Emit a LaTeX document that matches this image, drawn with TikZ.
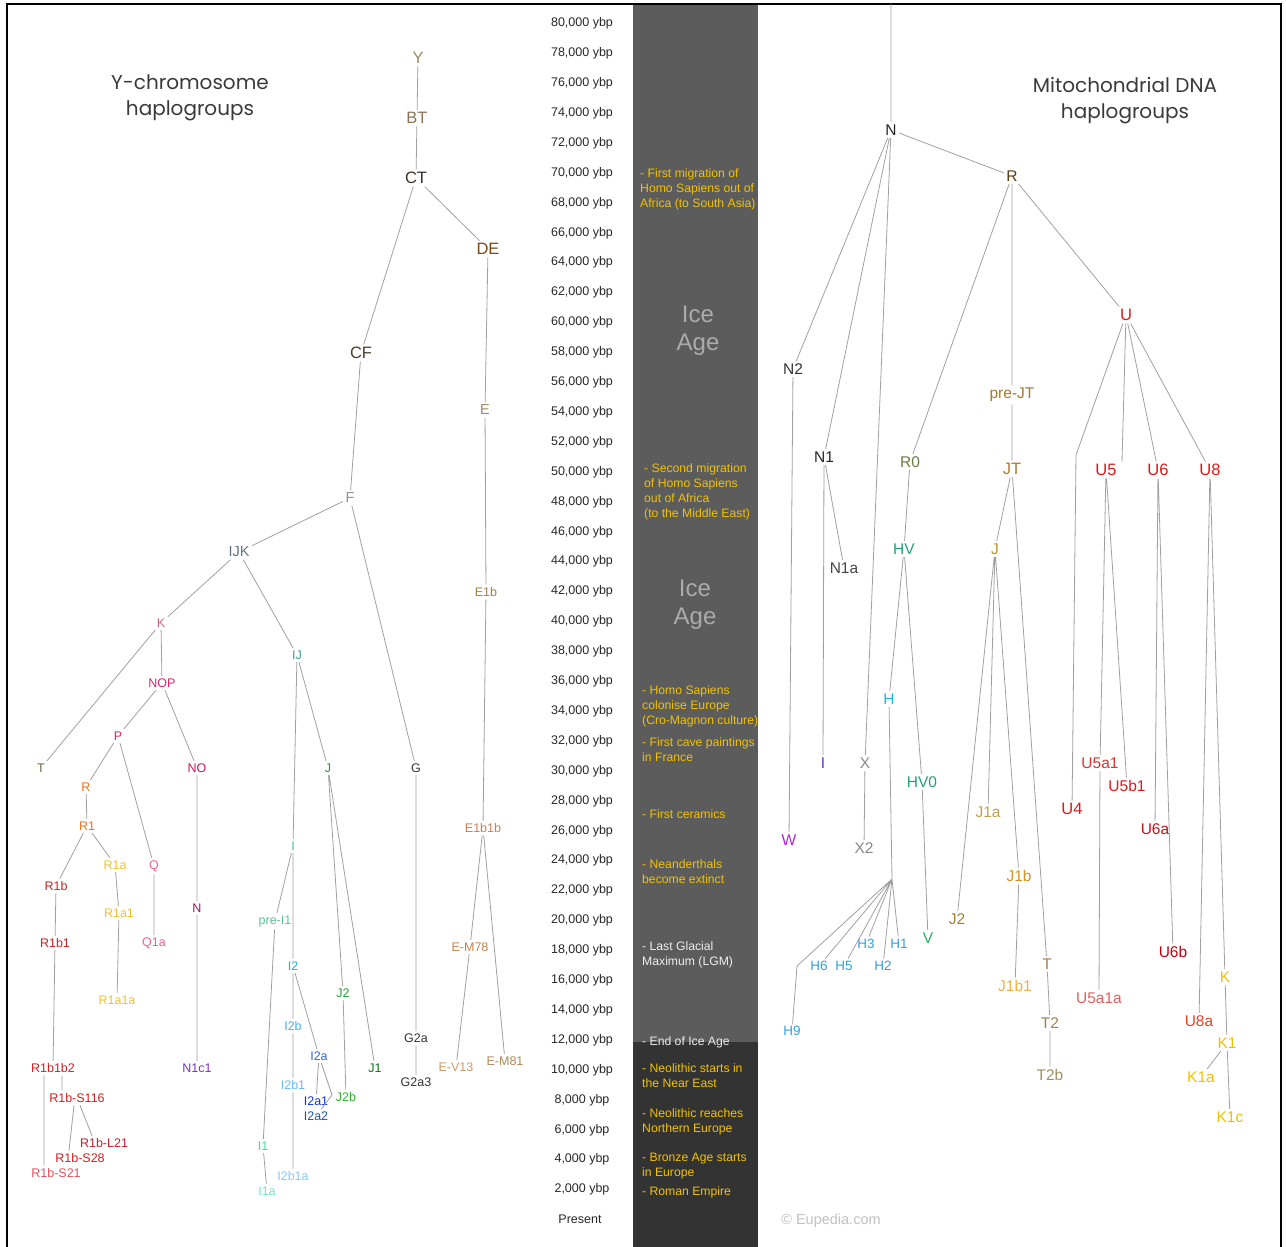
\documentclass[tikz,border=0pt]{standalone}
\usepackage{fontspec}
\setmainfont{Liberation Sans}
\newfontfamily\titlefont{Poppins}
\definecolor{edgegray}{HTML}{A0A0A0}
\definecolor{bandice}{HTML}{5C5C5C}
\definecolor{bandholo}{HTML}{333333}
\definecolor{eventgold}{HTML}{F2C200}
\definecolor{eventwhite}{HTML}{EEEEEE}
\definecolor{icegray}{HTML}{ABABAB}
\definecolor{titlegray}{HTML}{3A3A3A}
% Y-DNA colours
\definecolor{cY}{HTML}{A08660}
\definecolor{cBT}{HTML}{8B7355}
\definecolor{cCT}{HTML}{3A3028}
\definecolor{cDE}{HTML}{7B4A12}
\definecolor{cCF}{HTML}{4A3C2C}
\definecolor{cE}{HTML}{A08864}
\definecolor{cF}{HTML}{909090}
\definecolor{cIJK}{HTML}{5F7480}
\definecolor{cE1b}{HTML}{A87D45}
\definecolor{cK}{HTML}{D0607E}
\definecolor{cIJ}{HTML}{3AA08A}
\definecolor{cNOP}{HTML}{E0206A}
\definecolor{cT}{HTML}{7A6040}
\definecolor{cNO}{HTML}{D0105A}
\definecolor{cJ}{HTML}{1A9A2A}
\definecolor{cG}{HTML}{333333}
\definecolor{cR}{HTML}{F07020}
\definecolor{cE1b1b}{HTML}{C88050}
\definecolor{cI}{HTML}{48C0A0}
\definecolor{cR1a}{HTML}{F0C030}
\definecolor{cQ}{HTML}{F06090}
\definecolor{cR1b}{HTML}{D02020}
\definecolor{cN}{HTML}{A0106A}
\definecolor{cpreI}{HTML}{60C098}
\definecolor{cEM78}{HTML}{C88048}
\definecolor{cI2}{HTML}{30A8D8}
\definecolor{cJ2}{HTML}{20A030}
\definecolor{cI2b}{HTML}{40B0E8}
\definecolor{cI2a}{HTML}{3068D8}
\definecolor{cEM81}{HTML}{B08858}
\definecolor{cEV13}{HTML}{D09868}
\definecolor{cN1c1}{HTML}{8030C0}
\definecolor{cJ1}{HTML}{107010}
\definecolor{cI2b1}{HTML}{68B8F8}
\definecolor{cI2a1}{HTML}{1030E8}
\definecolor{cJ2b}{HTML}{30B030}
\definecolor{cI2a2}{HTML}{2050A0}
\definecolor{cL21}{HTML}{C02030}
\definecolor{cI1}{HTML}{40D8B0}
\definecolor{cS21}{HTML}{E05058}
\definecolor{cI2b1a}{HTML}{88C8F8}
\definecolor{cI1a}{HTML}{68E8C8}
% mtDNA colours
\definecolor{cmN}{HTML}{222222}
\definecolor{cmR}{HTML}{5A3A10}
\definecolor{cmU}{HTML}{E01818}
\definecolor{cmN2}{HTML}{333333}
\definecolor{cmpreJT}{HTML}{A07A30}
\definecolor{cmR0}{HTML}{6A7A40}
\definecolor{cmJT}{HTML}{B07A30}
\definecolor{cmHV}{HTML}{20A078}
\definecolor{cmJ}{HTML}{C09030}
\definecolor{cmN1a}{HTML}{444444}
\definecolor{cmH}{HTML}{20B8E0}
\definecolor{cmI}{HTML}{6030E0}
\definecolor{cmX}{HTML}{888888}
\definecolor{cmU5a1}{HTML}{E03030}
\definecolor{cmJ1a}{HTML}{C0A050}
\definecolor{cmU6a}{HTML}{C81010}
\definecolor{cmW}{HTML}{B020E0}
\definecolor{cmJ1b}{HTML}{D09028}
\definecolor{cmJ2}{HTML}{A08030}
\definecolor{cmV}{HTML}{20B060}
\definecolor{cmHsub}{HTML}{30A0E0}
\definecolor{cmU6b}{HTML}{C00010}
\definecolor{cmT}{HTML}{A08050}
\definecolor{cmK}{HTML}{F0C000}
\definecolor{cmJ1b1}{HTML}{F0B040}
\definecolor{cmU5a1a}{HTML}{E06060}
\definecolor{cmU8a}{HTML}{F04020}
\definecolor{cmT2b}{HTML}{A09060}
\definecolor{cmark}{HTML}{C0C0C0}
\tikzset{
	hg/.style = {
		align=center,
		inner sep=2.5pt,
		anchor=center
	},
	hg_big/.style = {
		hg,
		font=\fontsize{16.5}{16.5}\selectfont
	},
	hg_mid/.style = {
		hg,
		font=\fontsize{14.5}{14.5}\selectfont
	},
	hg_mt/.style = {
		hg,
		font=\fontsize{15.5}{15.5}\selectfont
	},
	hg_small/.style = {
		hg,
		font=\fontsize{12.5}{12.5}\selectfont
	},
	hg_hsub/.style = {
		hg,
		text=cmHsub,
		font=\fontsize{13.5}{13.5}\selectfont
	},
	branch/.style = {
		draw=edgegray,
		line width=0.8pt
	},
	scale_lab/.style = {
		inner sep=0pt,
		text=black!85,
		font=\fontsize{12.5}{12.5}\selectfont
	},
	event/.style = {
		anchor=north west,
		align=left,
		inner sep=0pt,
		text=eventgold,
		font=\fontsize{12.2}{15}\selectfont
	},
	ice_lab/.style = {
		align=center,
		inner sep=0pt,
		text=icegray,
		font=\fontsize{24}{28}\selectfont
	},
	title_lab/.style = {
		align=center,
		inner sep=0pt,
		text=titlegray,
		font=\titlefont\fontsize{20}{26}\selectfont
	}
}

\begin{document}
\begin{tikzpicture}[x=1pt, y=-1pt]
\useasboundingbox (0,0) rectangle (1286,1247);
\fill[bandice] (633,4) rectangle (758,1042);
\fill[bandholo] (633,1042) rectangle (758,1247);
\draw[black, line width=2.5pt] (7,1247) -- (7,4) -- (1281,4) -- (1281,1247);

\node [title_lab] (ytitle) at (190,98) {Y-chromosome\\haplogroups};
\node [title_lab] (mttitle) at (1125,101) {Mitochondrial DNA\\haplogroups};

\foreach \i in {0,...,39} {
	\pgfmathtruncatemacro{\yr}{80-2*\i}
	\node [scale_lab] (ybp\i) at (582,{23.5+29.9*\i}) {\yr,000 ybp};
}
\node [scale_lab] (ybp40) at (580,1219) {Present};

\node [ice_lab] (ice1) at (698,331) {Ice\\Age};
\node [ice_lab] (ice2) at (695,605) {Ice\\Age};

\node [event] (ev1) at (640,168) {- First migration of\\Homo Sapiens out of\\Africa (to South Asia)};
\node [event] (ev2) at (644,463) {- Second migration\\of Homo Sapiens\\out of Africa\\(to the Middle East)};
\node [event] (ev3) at (642,685) {- Homo Sapiens\\colonise Europe\\(Cro-Magnon culture)};
\node [event] (ev4) at (642,737) {- First cave paintings\\in France};
\node [event] (ev5) at (642,809) {- First ceramics};
\node [event] (ev6) at (642,859) {- Neanderthals\\become extinct};
\node [event, text=eventwhite] (ev7) at (642,941) {- Last Glacial\\Maximum (LGM)};
\node [event, text=eventwhite] (ev8) at (642,1036) {- End of Ice Age};
\node [event] (ev9) at (642,1063) {- Neolithic starts in\\the Near East};
\node [event] (ev10) at (642,1108) {- Neolithic reaches\\Northern Europe};
\node [event] (ev11) at (642,1153) {- Bronze Age starts\\in Europe};
\node [event] (ev12) at (642,1186) {- Roman Empire};

\node [hg_big, text=cY] (yY) at (418,58) {Y};
\node [hg_big, text=cBT] (yBT) at (417,118) {BT};
\node [hg_big, text=cCT] (yCT) at (416,178) {CT};
\node [hg_big, text=cDE] (yDE) at (488,249) {DE};
\node [hg_big, text=cCF] (yCF) at (361,353) {CF};
\node [hg_mid, text=cE] (yE) at (485,410) {E};
\node [hg_mid, text=cF] (yF) at (350,498) {F};
\node [hg_mid, text=cIJK] (yIJK) at (239,552) {IJK};
\node [hg_small, text=cE1b] (yE1b) at (486,592) {E1b};
\node [hg_small, text=cK] (yK) at (161,623) {K};
\node [hg_small, text=cIJ] (yIJ) at (297,655) {IJ};
\node [hg_small, text=cNOP] (yNOP) at (162,683) {NOP};
\node [hg_small, text=cNOP] (yP) at (118,736) {P};
\node [hg_small, text=cT] (yT) at (41,768) {T};
\node [hg_small, text=cNO] (yNO) at (197,768) {NO};
\node [hg_small, text=cJ] (yJ) at (328,768) {J};
\node [hg_small, text=cG] (yG) at (416,768) {G};
\node [hg_small, text=cR] (yR) at (86,787) {R};
\node [hg_small, text=cR] (yR1) at (87,826) {R1};
\node [hg_small, text=cE1b1b] (yE1b1b) at (483,828) {E1b1b};
\node [hg_small, text=cI] (yI) at (293,846) {I};
\node [hg_small, text=cR1a] (yR1a) at (115,865) {R1a};
\node [hg_small, text=cQ] (yQ) at (154,866) {Q};
\node [hg_small, text=cR1b] (yR1b) at (56,886) {R1b};
\node [hg_small, text=cN] (yN) at (197,908) {N};
\node [hg_small, text=cpreI] (ypreI1) at (275,921) {pre-I1};
\node [hg_small, text=cR1a] (yR1a1) at (119,913) {R1a1};
\node [hg_small, text=cR1b] (yR1b1) at (55,943) {R1b1};
\node [hg_small, text=cQ] (yQ1a) at (154,943) {Q1a};
\node [hg_small, text=cEM78] (yEM78) at (470,947) {E-M78};
\node [hg_small, text=cI2] (yI2) at (293,966) {I2};
\node [hg_small, text=cJ2] (yJ2) at (343,993) {J2};
\node [hg_small, text=cR1a] (yR1a1a) at (117,1000) {R1a1a};
\node [hg_small, text=cI2b] (yI2b) at (293,1026) {I2b};
\node [hg_small, text=cG] (yG2a) at (416,1038) {G2a};
\node [hg_small, text=cI2a] (yI2a) at (319,1056) {I2a};
\node [hg_small, text=cEM81] (yEM81) at (505,1061) {E-M81};
\node [hg_small, text=cEV13] (yEV13) at (456,1067) {E-V13};
\node [hg_small, text=cR1b] (yR1b1b2) at (53,1068) {R1b1b2};
\node [hg_small, text=cN1c1] (yN1c1) at (197,1068) {N1c1};
\node [hg_small, text=cJ1] (yJ1) at (375,1068) {J1};
\node [hg_small, text=cG] (yG2a3) at (416,1082) {G2a3};
\node [hg_small, text=cI2b1] (yI2b1) at (293,1085) {I2b1};
\node [hg_small, text=cR1b] (yS116) at (77,1098) {R1b-S116};
\node [hg_small, text=cI2a1] (yI2a1) at (316,1101) {I2a1};
\node [hg_small, text=cJ2b] (yJ2b) at (346,1097) {J2b};
\node [hg_small, text=cI2a2] (yI2a2) at (316,1116) {I2a2};
\node [hg_small, text=cL21] (yL21) at (104,1143) {R1b-L21};
\node [hg_small, text=cI1] (yI1) at (263,1146) {I1};
\node [hg_small, text=cR1b] (yS28) at (80,1158) {R1b-S28};
\node [hg_small, text=cS21] (yS21) at (56,1173) {R1b-S21};
\node [hg_small, text=cI2b1a] (yI2b1a) at (293,1176) {I2b1a};
\node [hg_small, text=cI1a] (yI1a) at (267,1191) {I1a};
\coordinate (yI2a_bend) at (332,1095);

\draw [branch] (yY) -- (yBT) (yBT) -- (yCT) (yCT) -- (yCF) (yCT) -- (yDE)
	(yDE) -- (yE) (yE) -- (yE1b) (yE1b) -- (yE1b1b) (yE1b1b) -- (yEM78)
	(yE1b1b) -- (yEM81) (yEM78) -- (yEV13)
	(yCF) -- (yF) (yF) -- (yIJK) (yF) -- (yG) (yG) -- (yG2a) (yG2a) -- (yG2a3)
	(yIJK) -- (yK) (yIJK) -- (yIJ) (yK) -- (yT) (yK) -- (yNOP)
	(yNOP) -- (yP) (yNOP) -- (yNO) (yNO) -- (yN) (yN) -- (yN1c1)
	(yP) -- (yR) (yP) -- (yQ) (yQ) -- (yQ1a) (yR) -- (yR1)
	(yR1) -- (yR1b) (yR1) -- (yR1a) (yR1a) -- (yR1a1) (yR1a1) -- (yR1a1a)
	(yR1b) -- (yR1b1) (yR1b1) -- (yR1b1b2)
	([xshift=9pt]yR1b1b2.south) -- ([xshift=-15pt]yS116.north)
	([xshift=-9pt]yR1b1b2.south) -- ([xshift=-12pt]yS21.north)
	([xshift=-3pt]yS116.south) -- ([xshift=-11pt]yS28.north)
	([xshift=3pt]yS116.south) -- ([xshift=-12pt]yL21.north)
	(yIJ) -- (yI) (yIJ) -- (yJ) (yJ) -- (yJ2) (yJ) -- (yJ1) (yJ2) -- (yJ2b)
	(yI) -- (ypreI1) (yI) -- (yI2) (ypreI1) -- (yI1) (yI1) -- (yI1a)
	(yI2) -- (yI2b) (yI2) -- (yI2a) (yI2b) -- (yI2b1) (yI2b1) -- (yI2b1a)
	(yI2a) -- (yI2a1) (yI2a) -- (yI2a_bend) -- (yI2a2);

\node [hg_mt, text=cmN] (mN) at (891,130) {N};
\node [hg_mt, text=cmR] (mR) at (1012,176) {R};
\node [hg_big, text=cmU] (mU) at (1126,315) {U};
\node [hg_mt, text=cmN2] (mN2) at (793,369) {N2};
\node [hg_mt, text=cmpreJT] (mpreJT) at (1012,395) {pre-JT};
\node [hg_mt, text=cmN] (mN1) at (824,457) {N1};
\node [hg_mt, text=cmR0] (mR0) at (910,462) {R0};
\node [hg_big, text=cmJT] (mJT) at (1012,469) {JT};
\node [hg_big, text=cmU] (mU5) at (1106,470) {U5};
\node [hg_big, text=cmU] (mU6) at (1158,470) {U6};
\node [hg_big, text=cmU] (mU8) at (1210,470) {U8};
\node [hg_mt, text=cmHV] (mHV) at (904,549) {HV};
\node [hg_mt, text=cmJ] (mJ) at (995,549) {J};
\node [hg_mt, text=cmN1a] (mN1a) at (844,568) {N1a};
\node [hg_mt, text=cmH] (mH) at (889,699) {H};
\node [hg_mt, text=cmI] (mI) at (823,763) {I};
\node [hg_mt, text=cmX] (mX) at (865,763) {X};
\node [hg_mt, text=cmU5a1] (mU5a1) at (1100,763) {U5a1};
\node [hg_mt, text=cmHV] (mHV0) at (922,782) {HV0};
\node [hg_mt, text=cmU] (mU5b1) at (1127,786) {U5b1};
\node [hg_mt, text=cmJ1a] (mJ1a) at (988,812) {J1a};
\node [hg_big, text=cmU] (mU4) at (1072,809) {U4};
\node [hg_mt, text=cmU6a] (mU6a) at (1155,829) {U6a};
\node [hg_mt, text=cmW] (mW) at (789,840) {W};
\node [hg_mt, text=cmX] (mX2) at (864,848) {X2};
\node [hg_mt, text=cmJ1b] (mJ1b) at (1019,876) {J1b};
\node [hg_mt, text=cmJ2] (mJ2) at (957,919) {J2};
\node [hg_mt, text=cmV] (mV) at (928,938) {V};
\node [hg_hsub] (mH3) at (866,944) {H3};
\node [hg_hsub] (mH1) at (899,944) {H1};
\node [hg_hsub] (mH6) at (819,966) {H6};
\node [hg_hsub] (mH5) at (844,966) {H5};
\node [hg_hsub] (mH2) at (883,966) {H2};
\node [hg_mt, text=cmU6b] (mU6b) at (1173,952) {U6b};
\node [hg_mt, text=cmT] (mT) at (1047,964) {T};
\node [hg_mt, text=cmK] (mK) at (1225,977) {K};
\node [hg_mt, text=cmJ1b1] (mJ1b1) at (1015,986) {J1b1};
\node [hg_mt, text=cmU5a1a] (mU5a1a) at (1099,998) {U5a1a};
\node [hg_mt, text=cmU8a] (mU8a) at (1199,1021) {U8a};
\node [hg_mt, text=cmT] (mT2) at (1050,1023) {T2};
\node [hg_hsub] (mH9) at (792,1031) {H9};
\node [hg_mt, text=cmK] (mK1) at (1227,1043) {K1};
\node [hg_mt, text=cmT2b] (mT2b) at (1050,1075) {T2b};
\node [hg_mt, text=cmK] (mK1a) at (1201,1077) {K1a};
\node [hg_mt, text=cmK] (mK1c) at (1230,1117) {K1c};
\coordinate (mtop) at (891,4);
\coordinate (mU4_bend) at (1076,455);
\coordinate (mH_hub) at (892,879);
\coordinate (mH9_bend) at (797,966);

\draw [branch] (mtop) -- (mN) (mN) -- (mR) (mN) -- (mN2) (mN) -- (mN1) (mN) -- (mX)
	(mN2) -- (mW) (mN1) -- (mI) (mN1) -- (mN1a) (mX) -- (mX2)
	(mR) -- (mR0) (mR) -- (mpreJT) (mR) -- (mU)
	(mR0) -- (mHV) (mHV) -- (mH) (mHV) -- (mHV0) (mHV0) -- (mV)
	(mH) -- (mH_hub) (mH_hub) -- (mH1) (mH_hub) -- (mH2) (mH_hub) -- (mH3)
	(mH_hub) -- (mH5) (mH_hub) -- (mH6) (mH_hub) -- (mH9_bend) -- (mH9)
	(mpreJT) -- (mJT) (mJT) -- (mJ) (mJT) -- (mT) (mJ) -- (mJ1a) (mJ) -- (mJ1b)
	(mJ) -- (mJ2) (mJ1b) -- (mJ1b1) (mT) -- (mT2) (mT2) -- (mT2b)
	(mU) -- (mU4_bend) -- (mU4) (mU) -- ([xshift=16pt]mU5.north) (mU) -- (mU6) (mU) -- (mU8)
	(mU5) -- (mU5a1) (mU5) -- (mU5b1) (mU5a1) -- (mU5a1a)
	(mU6) -- (mU6a) (mU6) -- (mU6b) (mU8) -- (mU8a) (mU8) -- (mK)
	(mK) -- (mK1) (mK1) -- (mK1a) (mK1) -- (mK1c);

\node [inner sep=0pt, text=cmark, font=\fontsize{14.5}{14.5}\selectfont] (mark) at (831,1221) {\textcopyright{} Eupedia.com};
\end{tikzpicture}
\end{document}
